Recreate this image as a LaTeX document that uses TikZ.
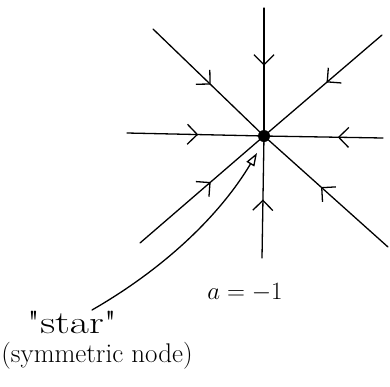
\documentclass[tikz,border=0pt]{standalone}
\usepackage{fontspec}
\newfontfamily\plainlm{Latin Modern Roman}
\usetikzlibrary{arrows.meta,decorations.markings}
\begin{document}
\begin{tikzpicture}[x=1pt,y=-1pt,
  traj/.style={line width=1.3pt, line cap=round},
  flow/.style={postaction={decorate},decoration={markings,mark=at position #1 with {\arrow{Straight Barb[length=10pt,width=20pt]}}}},
  lbl/.style={inner sep=0pt},
]
\useasboundingbox (0,0) rectangle (390,386);
\node[circle, fill, inner sep=0pt, minimum size=12pt] (O) at (264,136) {};
% free ends
\coordinate (T)  at (264,8);
\coordinate (B)  at (262,258);
\coordinate (L)  at (127,133);
\coordinate (R)  at (383,138);
\coordinate (UL) at (153,29);
\coordinate (UR) at (382,35);
\coordinate (LR) at (388,247);
\coordinate (LL) at (140,243);
% trajectories
\draw[traj, flow=0.45] (T)  -- (O.center);
\draw[traj, flow=0.48] (B)  -- (O.center);
\draw[traj, flow=0.52] (L)  -- (O.center);
\draw[traj, flow=0.38] (R)  -- (O.center);
\draw[traj, flow=0.52] (UL) -- (O.center);
\draw[traj, flow=0.47] (UR) -- (O.center);
\draw[traj, flow=0.54] (LR) -- (O.center);
\draw[traj, flow=0.57] (LL) -- (O.center);
% labels
\node[lbl, font=\plainlm\fontsize{32}{34}\selectfont] (star) at (72,322) {\scalebox{1.3}[1]{"star"}};
\node[lbl, font=\fontsize{27}{29}\selectfont] (sym) at (97,356) {(symmetric node)};
\node[lbl, font=\fontsize{28}{30}\selectfont] (aval) at (245,293) {$a=-1$};
% pointer
\coordinate (p0) at (92,310);
\coordinate (p1) at (257,153);
\draw[traj, -{Triangle[open,length=13pt,width=9pt]}] (p0) .. controls (165,268) and (220,215) .. (p1);
\end{tikzpicture}
\end{document}
